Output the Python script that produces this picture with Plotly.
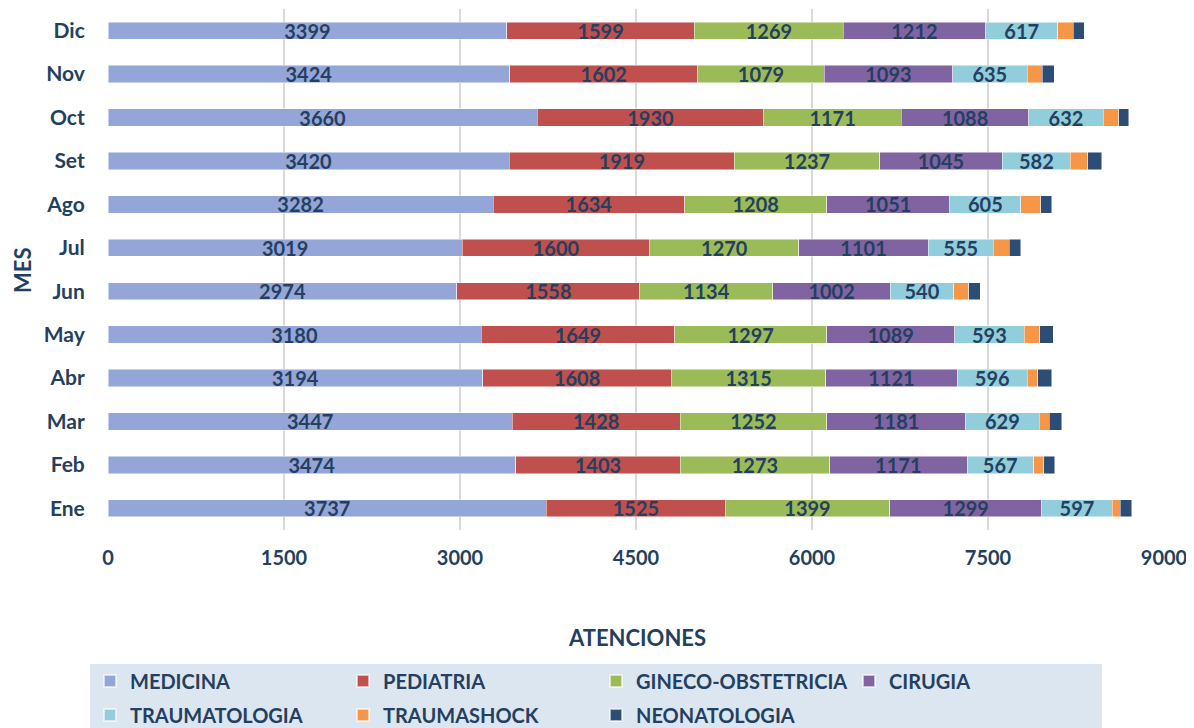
import plotly.graph_objects as go

meses = ["Ene", "Feb", "Mar", "Abr", "May", "Jun", "Jul", "Ago", "Set", "Oct", "Nov", "Dic"]
medicina = [3737, 3474, 3447, 3194, 3180, 2974, 3019, 3282, 3420, 3660, 3424, 3399]
pediatria = [1525, 1403, 1428, 1608, 1649, 1558, 1600, 1634, 1919, 1930, 1602, 1599]
gineco = [1399, 1273, 1252, 1315, 1297, 1134, 1270, 1208, 1237, 1171, 1079, 1269]
cirugia = [1299, 1171, 1181, 1121, 1089, 1002, 1101, 1051, 1045, 1088, 1093, 1212]
traumatologia = [597, 567, 629, 596, 593, 540, 555, 605, 582, 632, 635, 617]
traumashock = [68, 85, 85, 91, 131, 128, 136, 170, 148, 134, 131, 130]
neonatologia = [102, 94, 108, 117, 119, 100, 97, 94, 117, 83, 99, 94]

series = [
    ("MEDICINA", medicina, "#94a6d8", True, "legend"),
    ("PEDIATRIA", pediatria, "#c0504d", True, "legend"),
    ("GINECO-OBSTETRICIA", gineco, "#9bbb59", True, "legend"),
    ("CIRUGIA", cirugia, "#8064a2", True, "legend"),
    ("TRAUMATOLOGIA", traumatologia, "#92cddc", True, "legend2"),
    ("TRAUMASHOCK", traumashock, "#f79646", False, "legend2"),
    ("NEONATOLOGIA", neonatologia, "#2c4d75", False, "legend2"),
]

FONT = "Lato"
NAVY = "#243f60"

fig = go.Figure()
for name, vals, color, lab, leg in series:
    fig.add_trace(go.Bar(
        y=meses, x=vals, name=name, orientation="h", legend=leg,
        marker=dict(color=color, line=dict(color="rgba(255,255,255,0.6)", width=0.8)),
        text=vals if lab else None,
        texttemplate="%{x}" if lab else None,
        textposition="inside" if lab else "none",
        insidetextanchor="middle",
        constraintext="none",
        textangle=0,
        textfont=dict(family=FONT, size=20, color=NAVY, weight="bold"),
        hoverinfo="x+y+name",
    ))

# page body adds an 8px offset; work in window pixels and convert
OFF = 8
W, H = 1194 - OFF, 728 - OFF
PL, PR, PT, PB = 108, 1164, 9, 530   # plot area in window pixels
L, T = PL - OFF, PT - OFF
R, B = (1194 - PR), (728 - PB)

def px_x(p):
    return (p - PL) / (PR - PL)

def px_y(p):
    return (PB - p) / (PB - PT)

def cx(p):
    return (p - OFF) / W

def cy(p):
    return 1 - (p - OFF) / H

legfont = dict(family=FONT, size=20, color=NAVY, weight="bold")

def legend_at(xp, yp):
    return dict(
        orientation="h", traceorder="normal",
        xref="container", yref="container",
        x=cx(xp), xanchor="left", y=cy(yp), yanchor="middle",
        entrywidth=208, entrywidthmode="pixels",
        font=legfont, bgcolor="rgba(0,0,0,0)", itemsizing="constant",
    )

fig.update_layout(
    barmode="stack",
    width=W, height=H,
    margin=dict(l=L, r=R, t=T, b=B, autoexpand=False),
    paper_bgcolor="white", plot_bgcolor="white",
    bargap=0.6,
    font=dict(family=FONT, color=NAVY, size=20, weight="bold"),
    xaxis=dict(
        range=[0, 9000], tickvals=[0, 1500, 3000, 4500, 6000, 7500, 9000],
        showgrid=True, gridcolor="#d9d9d9", gridwidth=2, zeroline=False,
        ticks="outside", ticklen=10, tickcolor="rgba(0,0,0,0)",
        tickfont=dict(family=FONT, size=20, color=NAVY, weight="bold"),
        showline=False, fixedrange=True, automargin=False,
    ),
    yaxis=dict(
        categoryorder="array", categoryarray=meses,
        ticks="outside", ticklen=18, tickcolor="rgba(0,0,0,0)",
        tickfont=dict(family=FONT, size=21, color=NAVY, weight="bold"),
        showgrid=False, showline=False, automargin=False,
    ),
    showlegend=True,
    legend=legend_at(90, 681),
    legend2=legend_at(90, 715),
    shapes=[dict(
        type="rect", xref="paper", yref="paper",
        x0=px_x(90), x1=px_x(1102), y0=px_y(740), y1=px_y(664),
        fillcolor="#dce6f1", line=dict(width=0), layer="below",
    )],
    annotations=[
        dict(text="ATENCIONES", xref="paper", yref="paper",
             x=px_x(637), y=px_y(637), xanchor="center", yanchor="middle",
             showarrow=False, font=dict(family=FONT, size=22, color=NAVY, weight="bold")),
        dict(text="MES", xref="paper", yref="paper",
             x=px_x(22), y=px_y(270), xanchor="center", yanchor="middle",
             textangle=-90, showarrow=False,
             font=dict(family=FONT, size=22, color=NAVY, weight="bold")),
    ],
)

fig.write_html("out.html")
